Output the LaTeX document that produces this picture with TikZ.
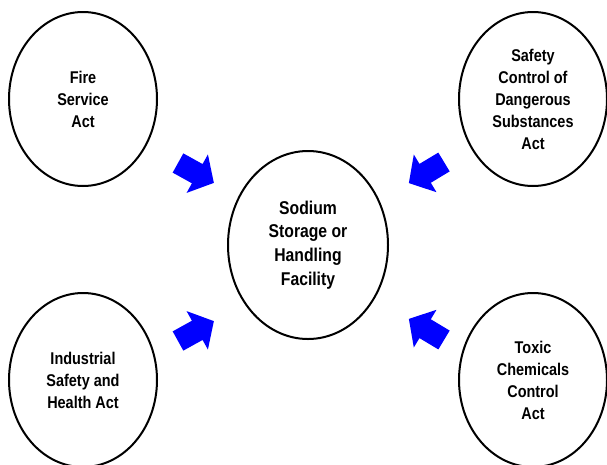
\documentclass[tikz,border=0pt]{standalone}
\usepackage{fontspec}
\setmainfont{Liberation Sans}[FakeStretch=0.85]
\usetikzlibrary{shapes.geometric}
\begin{document}
\begin{tikzpicture}[x=1pt,y=-1pt,
  law/.style={ellipse, draw, line width=2pt, minimum width=148pt, minimum height=174pt,
    inner sep=0pt, align=center, font=\bfseries\fontsize{17}{22}\selectfont},
  hub/.style={law, minimum width=160pt, minimum height=188pt,
    font=\bfseries\fontsize{18.5}{23.7}\selectfont},
  blockarrow/.style={fill=blue}]
\useasboundingbox (0,0) rectangle (607,464);
\clip (0,0) rectangle (607,464);
\node[hub] (hub) at (308,245) {Sodium\\Storage or\\Handling\\Facility};
\node[law] (fire) at (83,99) {Fire\\Service\\Act};
\node[law] (safety) at (533,99) {Safety\\Control of\\Dangerous\\Substances\\Act};
\node[law] (industrial) at (83,380) {Industrial\\Safety and\\Health Act};
\node[law] (toxic) at (533,380) {Toxic\\Chemicals\\Control\\Act};
\def\arrowshape{(0,-11) -- (22,-11) -- (22,-22) -- (41,0) -- (22,22) -- (22,11) -- (0,11) -- cycle}
\fill[blockarrow, shift={(178,163)}, rotate=-29] \arrowshape;
\fill[blockarrow, shift={(444,162)}, rotate=-149] \arrowshape;
\fill[blockarrow, shift={(178,341)}, rotate=29] \arrowshape;
\fill[blockarrow, shift={(444,340)}, rotate=149] \arrowshape;
\end{tikzpicture}
\end{document}
